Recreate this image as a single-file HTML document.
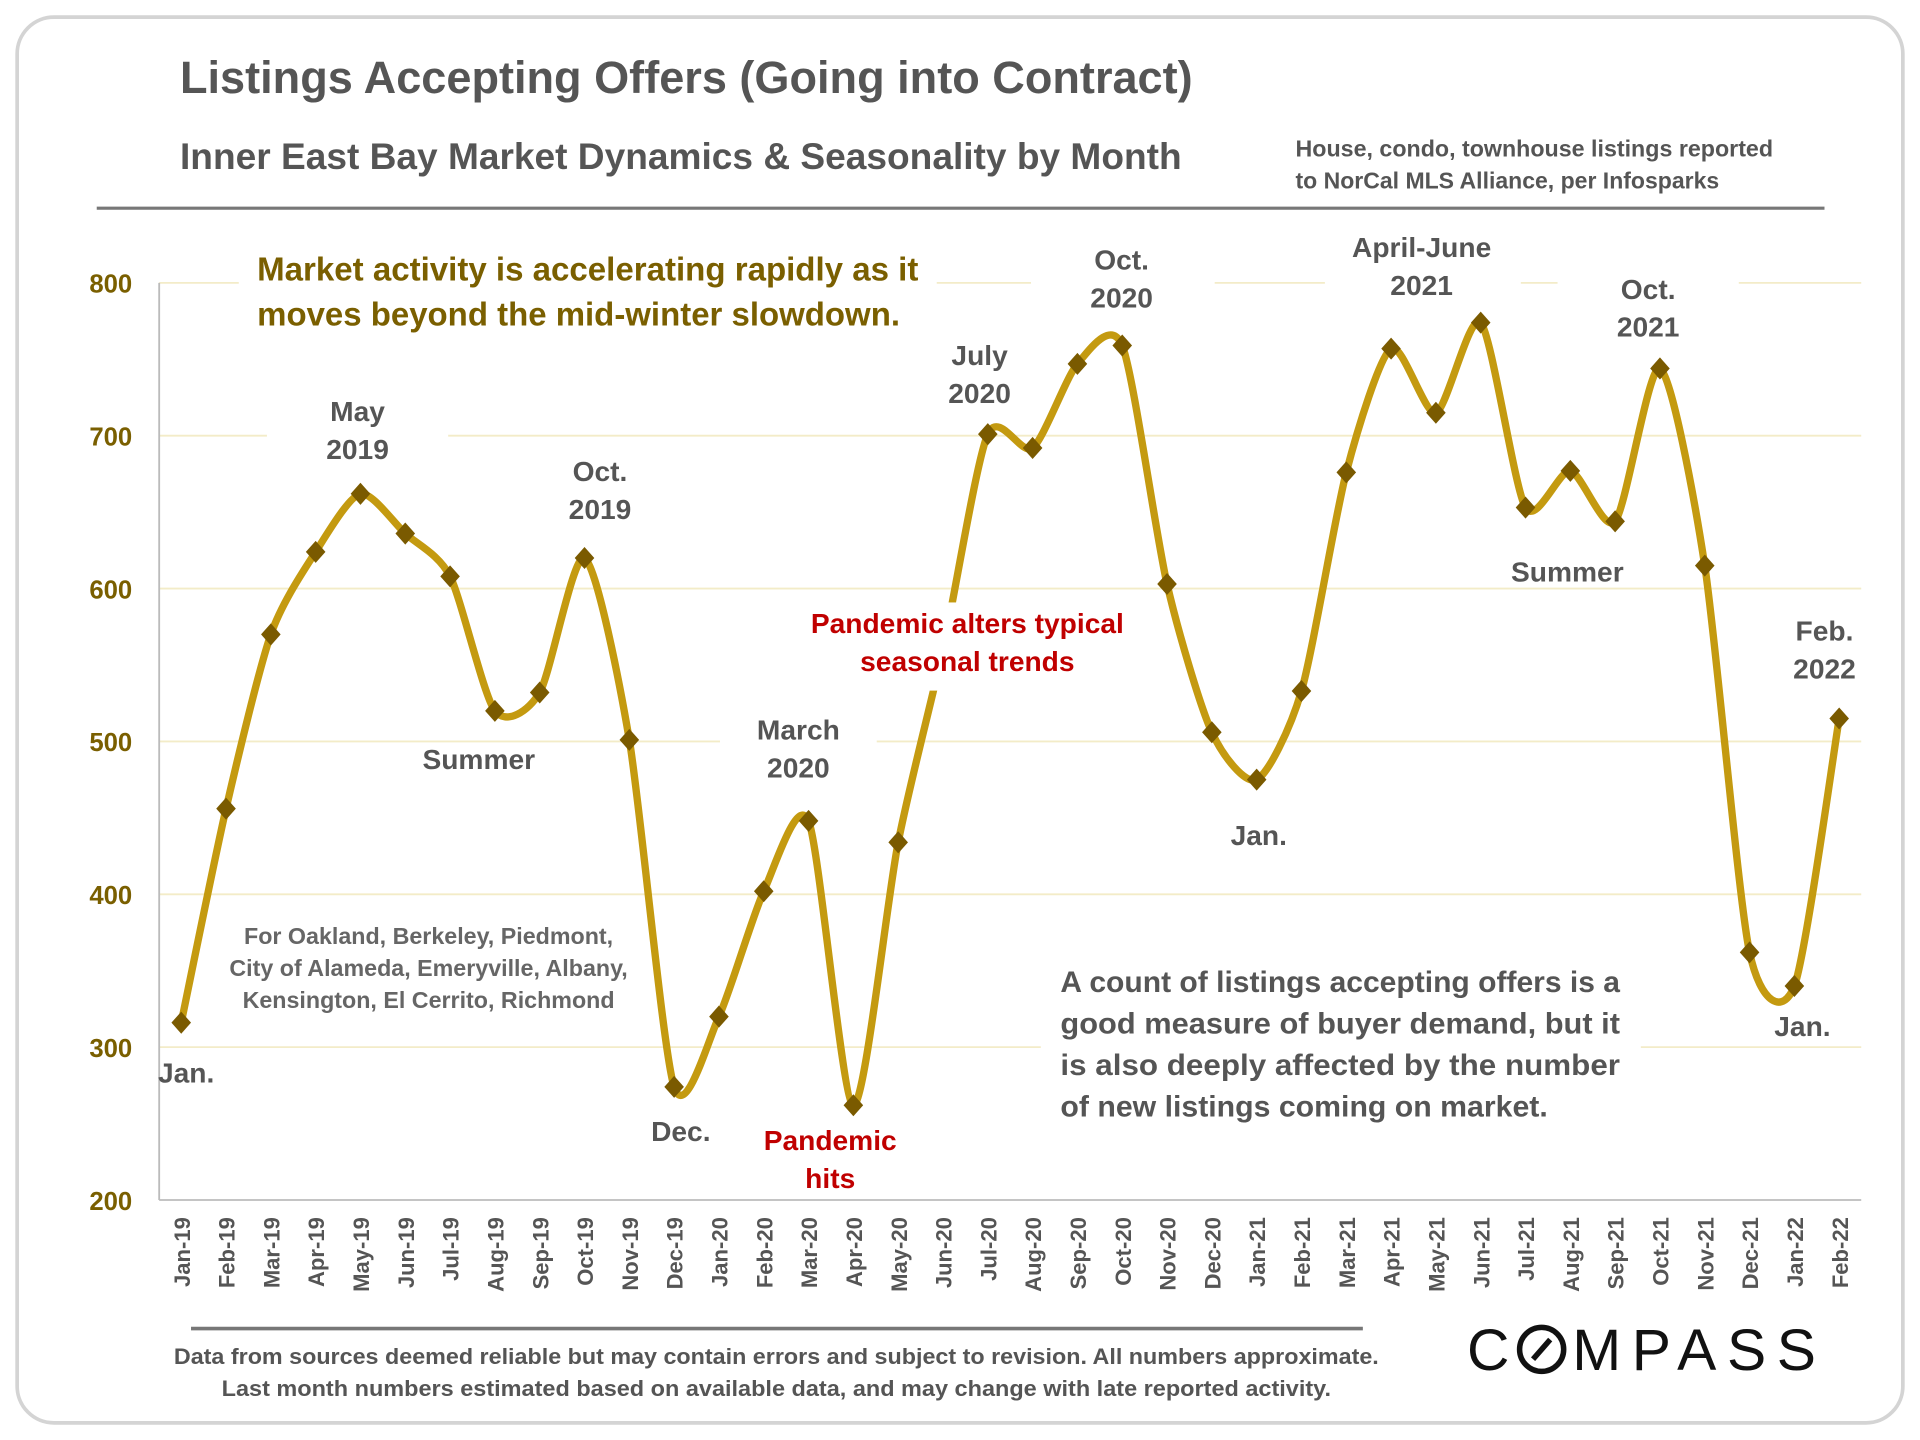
<!DOCTYPE html>
<html><head><meta charset="utf-8"><style>
html,body{margin:0;padding:0;background:#fff;}
svg{display:block;}
text{font-family:"Liberation Sans Narrow","Liberation Sans",sans-serif;font-weight:bold;}
</style></head><body>
<svg id="chart" width="1920" height="1440" viewBox="0 0 1568 1176" xmlns="http://www.w3.org/2000/svg">
<rect x="14" y="14" width="1540" height="1148" rx="30" fill="#fff" stroke="#d4d4d4" stroke-width="3"/>
<text x="147" y="76" font-size="37" fill="#555" textLength="827" lengthAdjust="spacingAndGlyphs">Listings Accepting Offers (Going into Contract)</text>
<text x="147" y="138" font-size="30" fill="#555" textLength="818" lengthAdjust="spacingAndGlyphs">Inner East Bay Market Dynamics &amp; Seasonality by Month</text>
<text x="1058" y="128" font-size="19" fill="#555" textLength="390" lengthAdjust="spacingAndGlyphs">House, condo, townhouse listings reported</text>
<text x="1058" y="154" font-size="19" fill="#555" textLength="346" lengthAdjust="spacingAndGlyphs">to NorCal MLS Alliance, per Infosparks</text>
<line x1="79" y1="170" x2="1490" y2="170" stroke="#777" stroke-width="2.5"/>
<g id="grid"></g>
<g id="yticks"></g>
<line x1="130" y1="231" x2="130" y2="980" stroke="#bbb" stroke-width="1.5"/>
<line x1="130" y1="980" x2="1520" y2="980" stroke="#bbb" stroke-width="1.5"/>
<g id="xticks"></g>
<g id="annot-bg">
<rect x="195" y="195" width="570" height="80" fill="#fff"/>
<rect x="842" y="190" width="150" height="70" fill="#fff"/>
<rect x="1082" y="180" width="160" height="70" fill="#fff"/>
<rect x="1272" y="215" width="148" height="70" fill="#fff"/>
<rect x="218" y="315" width="148" height="70" fill="#fff"/>
<rect x="588" y="575" width="128" height="70" fill="#fff"/>
<rect x="850" y="780" width="490" height="145" fill="#fff"/>
</g>
<path id="series-line" fill="none" stroke="#c49a10" stroke-width="6" stroke-linejoin="round"/>
<g id="markers"></g>
<rect x="655" y="492" width="270" height="72" fill="#fff"/>
<g font-size="27" fill="#7a5f00">
<text x="210" y="229" textLength="540" lengthAdjust="spacingAndGlyphs">Market activity is accelerating rapidly as it</text>
<text x="210" y="266" textLength="525" lengthAdjust="spacingAndGlyphs">moves beyond the mid-winter slowdown.</text>
</g>
<g font-size="23" fill="#555" text-anchor="middle">
<text x="292" y="344">May</text><text x="292" y="375">2019</text>
<text x="490" y="393">Oct.</text><text x="490" y="424">2019</text>
<text x="391" y="628">Summer</text>
<text x="152" y="884">Jan.</text>
<text x="556" y="932">Dec.</text>
<text x="652" y="604">March</text><text x="652" y="635">2020</text>
<text x="800" y="298">July</text><text x="800" y="329">2020</text>
<text x="916" y="220">Oct.</text><text x="916" y="251">2020</text>
<text x="1028" y="690">Jan.</text>
<text x="1161" y="210">April-June</text><text x="1161" y="241">2021</text>
<text x="1346" y="244">Oct.</text><text x="1346" y="275">2021</text>
<text x="1280" y="475">Summer</text>
<text x="1490" y="523">Feb.</text><text x="1490" y="554">2022</text>
<text x="1472" y="846">Jan.</text>
</g>
<g font-size="23" fill="#c00000" text-anchor="middle">
<text x="790" y="517">Pandemic alters typical</text><text x="790" y="548">seasonal trends</text>
<text x="678" y="939">Pandemic</text><text x="678" y="970">hits</text>
</g>
<g font-size="19" fill="#666" text-anchor="middle">
<text x="350" y="771">For Oakland, Berkeley, Piedmont,</text>
<text x="350" y="797">City of Alameda, Emeryville, Albany,</text>
<text x="350" y="823">Kensington, El Cerrito, Richmond</text>
</g>
<g font-size="24" fill="#555">
<text x="866" y="810" textLength="457" lengthAdjust="spacingAndGlyphs">A count of listings accepting offers is a</text>
<text x="866" y="844" textLength="457" lengthAdjust="spacingAndGlyphs">good measure of buyer demand, but it</text>
<text x="866" y="878" textLength="457" lengthAdjust="spacingAndGlyphs">is also deeply affected by the number</text>
<text x="866" y="912" textLength="398" lengthAdjust="spacingAndGlyphs">of new listings coming on market.</text>
</g>
<line x1="156" y1="1085" x2="1113" y2="1085" stroke="#777" stroke-width="3"/>
<g font-size="18" fill="#555" text-anchor="middle">
<text x="634" y="1114" textLength="984" lengthAdjust="spacingAndGlyphs">Data from sources deemed reliable but may contain errors and subject to revision. All numbers approximate.</text>
<text x="634" y="1140" textLength="906" lengthAdjust="spacingAndGlyphs">Last month numbers estimated based on available data, and may change with late reported activity.</text>
</g>
<g>
<text x="1198" y="1119" font-family="Liberation Sans,sans-serif" font-size="48" fill="#111" style="font-weight:normal">C</text>
<circle cx="1259" cy="1102" r="18" fill="none" stroke="#111" stroke-width="4.5"/>
<line x1="1252" y1="1110" x2="1266" y2="1094" stroke="#111" stroke-width="4.5"/>
<text x="1284" y="1119" font-family="Liberation Sans,sans-serif" font-size="48" fill="#111" textLength="199" lengthAdjust="spacing" style="font-weight:normal">MPASS</text>
</g>
</svg>
<script>
const categories = ["Jan-19","Feb-19","Mar-19","Apr-19","May-19","Jun-19","Jul-19","Aug-19","Sep-19","Oct-19","Nov-19","Dec-19","Jan-20","Feb-20","Mar-20","Apr-20","May-20","Jun-20","Jul-20","Aug-20","Sep-20","Oct-20","Nov-20","Dec-20","Jan-21","Feb-21","Mar-21","Apr-21","May-21","Jun-21","Jul-21","Aug-21","Sep-21","Oct-21","Nov-21","Dec-21","Jan-22","Feb-22"];
const values = [316,456,570,624,662,636,608,520,532,620,501,274,320,402,448,262,434,560,701,692,747,759,603,506,475,533,676,757,715,774,653,677,644,744,615,362,340,515];
const yTicks = [200,300,400,500,600,700,800];
const NS = "http://www.w3.org/2000/svg";
const x = i => 148 + i * (1502 - 148) / (categories.length - 1);
const y = v => 980 - (v - 200) * (980 - 231) / 600;
const grid = document.getElementById('grid');
const yt = document.getElementById('yticks');
yTicks.forEach(t => {
  if (t > 200) {
    const l = document.createElementNS(NS, 'line');
    
    
    l.setAttribute('x1', 130); l.setAttribute('x2', 1520);
    l.setAttribute('y1', y(t)); l.setAttribute('y2', y(t));
    l.setAttribute('stroke', '#f3ecc8'); l.setAttribute('stroke-width', 1.5);
    grid.appendChild(l);
  }
  const tx = document.createElementNS(NS, 'text');
  
  
  tx.setAttribute('x', 108); tx.setAttribute('y', y(t) + 8);
  tx.setAttribute('text-anchor', 'end'); tx.setAttribute('font-size', 21);
  tx.setAttribute('fill', '#7a5f00');
  tx.textContent = t;
  yt.appendChild(tx);
});
const xt = document.getElementById('xticks');
categories.forEach((c, i) => {
  const tx = document.createElementNS(NS, 'text');
  
  
  tx.setAttribute('transform', `translate(${x(i) + 7},994) rotate(-90)`);
  tx.setAttribute('text-anchor', 'end'); tx.setAttribute('font-size', 18);
  tx.setAttribute('fill', '#555');
  tx.setAttribute('font-family', 'Liberation Sans, sans-serif');
  tx.textContent = c;
  xt.appendChild(tx);
});
const pts = values.map((v, i) => [x(i), y(v)]);
let d = `M${pts[0][0]},${pts[0][1]}`;
const k = 8;
for (let i = 0; i < pts.length - 1; i++) {
  const p0 = pts[i - 1] || pts[i], p1 = pts[i], p2 = pts[i + 1], p3 = pts[i + 2] || p2;
  const c1 = [p1[0] + (p2[0] - p0[0]) / k, p1[1] + (p2[1] - p0[1]) / k];
  const c2 = [p2[0] - (p3[0] - p1[0]) / k, p2[1] - (p3[1] - p1[1]) / k];
  d += ` C${c1[0]},${c1[1]} ${c2[0]},${c2[1]} ${p2[0]},${p2[1]}`;
}
document.getElementById('series-line').setAttribute('d', d);
const mk = document.getElementById('markers');
pts.forEach(([px, py]) => {
  const m = document.createElementNS(NS, 'polygon');
  
  
  m.setAttribute('points', `${px},${py - 9} ${px + 8},${py} ${px},${py + 9} ${px - 8},${py}`);
  m.setAttribute('fill', '#7a5a00');
  mk.appendChild(m);
});
</script>
</body></html>
